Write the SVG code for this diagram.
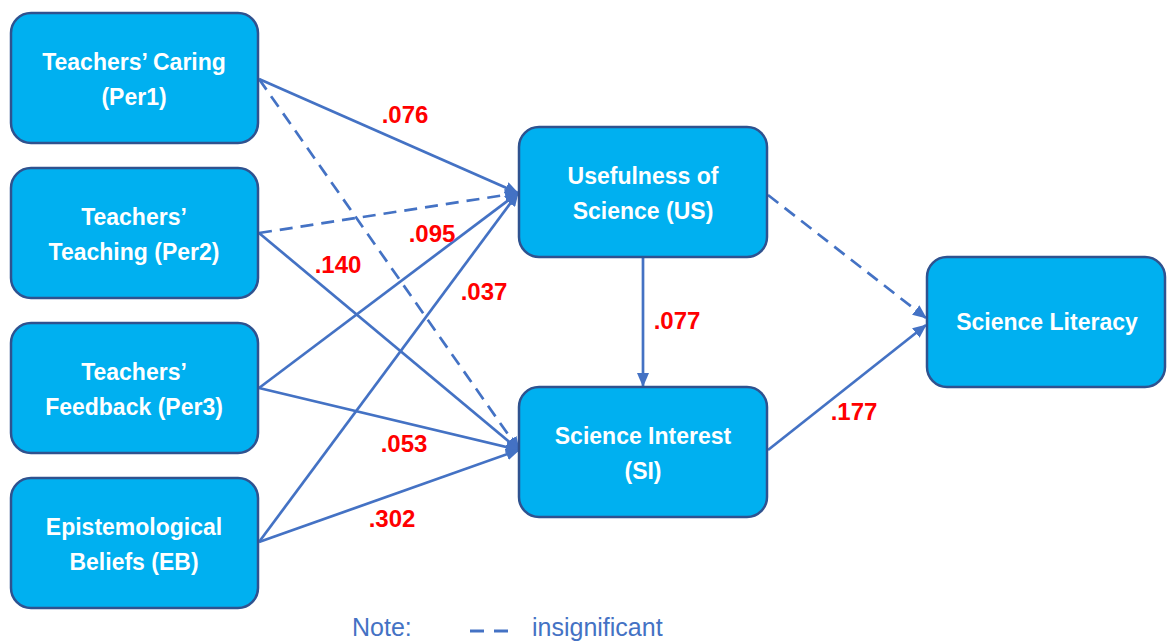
<svg xmlns="http://www.w3.org/2000/svg" width="1167" height="642" viewBox="0 0 1167 642">
<style>
.box{fill:#00B0F0;stroke:#2F528F;stroke-width:2.5}
.lbl{font-family:"Liberation Sans",Arial,sans-serif;font-weight:bold;font-size:23px;fill:#FFFFFF;text-anchor:middle}
.coef{font-family:"Liberation Sans",Arial,sans-serif;font-weight:bold;font-size:24px;fill:#FF0000;text-anchor:middle}
.edge{stroke:#4472C4;stroke-width:2.7;fill:none}
.dash{stroke-dasharray:13 8}
.note{font-family:"Liberation Sans",Arial,sans-serif;font-size:25px;fill:#4472C4}
</style>
<defs>
<marker id="arr" markerUnits="userSpaceOnUse" markerWidth="14" markerHeight="12" refX="13" refY="6" orient="auto">
<path d="M0,0 L14,6 L0,12 Z" fill="#4472C4"/>
</marker>
</defs>
<rect width="1167" height="642" fill="#FFFFFF"/>
<g id="connectors">
<line class="edge" x1="259" y1="79" x2="518" y2="193" marker-end="url(#arr)"/>
<line class="edge dash" x1="259" y1="79" x2="519" y2="450" marker-end="url(#arr)"/>
<line class="edge dash" x1="259" y1="233" x2="518" y2="193" marker-end="url(#arr)"/>
<line class="edge" x1="259" y1="233" x2="519" y2="450" marker-end="url(#arr)"/>
<line class="edge" x1="259" y1="388" x2="518" y2="193" marker-end="url(#arr)"/>
<line class="edge" x1="259" y1="388" x2="519" y2="450" marker-end="url(#arr)"/>
<line class="edge" x1="259" y1="542" x2="518" y2="193" marker-end="url(#arr)"/>
<line class="edge" x1="259" y1="542" x2="519" y2="450" marker-end="url(#arr)"/>
<line class="edge" x1="643" y1="258" x2="643" y2="386" marker-end="url(#arr)"/>
<line class="edge dash" x1="768" y1="195" x2="926" y2="318" marker-end="url(#arr)"/>
<line class="edge" x1="768" y1="450" x2="926" y2="325" marker-end="url(#arr)"/>
</g>
<g id="coefficients">
<text class="coef" x="405" y="123">.076</text>
<text class="coef" x="432" y="242">.095</text>
<text class="coef" x="338" y="273">.140</text>
<text class="coef" x="484" y="300">.037</text>
<text class="coef" x="677" y="329">.077</text>
<text class="coef" x="854" y="420">.177</text>
<text class="coef" x="404" y="452">.053</text>
<text class="coef" x="392" y="527">.302</text>
</g>
<g id="per1">
<rect class="box" x="11" y="13" width="247" height="130" rx="20"/>
<text class="lbl" x="134" y="70">Teachers’ Caring</text>
<text class="lbl" x="134" y="105">(Per1)</text>
</g>
<g id="per2">
<rect class="box" x="11" y="168" width="247" height="130" rx="20"/>
<text class="lbl" x="134" y="225">Teachers’</text>
<text class="lbl" x="134" y="260">Teaching (Per2)</text>
</g>
<g id="per3">
<rect class="box" x="11" y="323" width="247" height="130" rx="20"/>
<text class="lbl" x="134" y="380">Teachers’</text>
<text class="lbl" x="134" y="415">Feedback (Per3)</text>
</g>
<g id="eb">
<rect class="box" x="11" y="478" width="247" height="130" rx="20"/>
<text class="lbl" x="134" y="535">Epistemological</text>
<text class="lbl" x="134" y="570">Beliefs (EB)</text>
</g>
<g id="us">
<rect class="box" x="519" y="127" width="248" height="130" rx="20"/>
<text class="lbl" x="643" y="184">Usefulness of</text>
<text class="lbl" x="643" y="219">Science (US)</text>
</g>
<g id="si">
<rect class="box" x="519" y="387" width="248" height="130" rx="20"/>
<text class="lbl" x="643" y="444">Science Interest</text>
<text class="lbl" x="643" y="479">(SI)</text>
</g>
<g id="sl">
<rect class="box" x="927" y="257" width="238" height="130" rx="20"/>
<text class="lbl" x="1047" y="330">Science Literacy</text>
</g>
<g id="note">
<text class="note" x="352" y="636">Note:</text>
<line x1="470" y1="631" x2="484" y2="631" stroke="#4472C4" stroke-width="3"/>
<line x1="494" y1="631" x2="508" y2="631" stroke="#4472C4" stroke-width="3"/>
<text class="note" x="532" y="636">insignificant</text>
</g>
</svg>
